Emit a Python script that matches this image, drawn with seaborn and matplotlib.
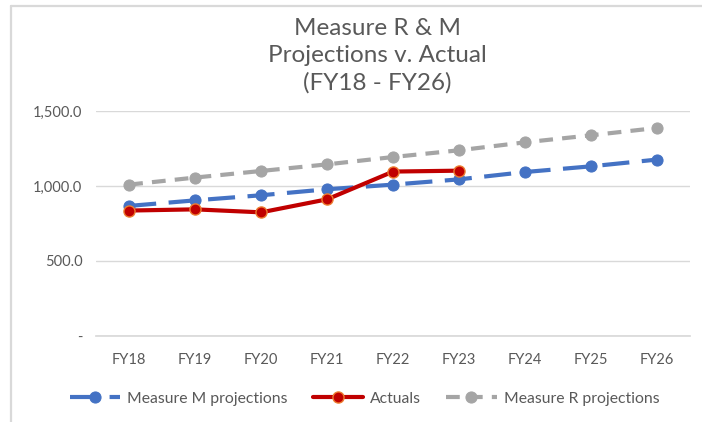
import pandas as pd
import seaborn as sns
import matplotlib.pyplot as plt
from matplotlib.ticker import FuncFormatter

years = ["FY18", "FY19", "FY20", "FY21", "FY22", "FY23", "FY24", "FY25", "FY26"]
m_projections = [867, 904, 938, 978, 1009, 1044, 1093, 1131, 1176]
actuals = [836, 844, 824, 911, 1096, 1102]
r_projections = [1009, 1056, 1100, 1144, 1193, 1238, 1291, 1338, 1387]

sns.set_theme(style="white")
plt.rcParams["font.family"] = ["Lato", "DejaVu Sans"]

txt = "#595959"
grid = "#d9d9d9"

fig = plt.figure(figsize=(7.02, 4.22), dpi=100)
ax = fig.add_axes([0.137, 0.204, 0.846, 0.533])

pos = list(range(len(years)))

sns.lineplot(x=pos, y=m_projections, ax=ax, color="#4472C4", linewidth=3,
             linestyle=(0, (6.5, 3)), marker="o", markersize=8,
             markeredgecolor="#4472C4", label="Measure M projections", zorder=3)
sns.lineplot(x=pos[:len(actuals)], y=actuals, ax=ax, color="#C00000", linewidth=3,
             marker="o", markersize=8, markeredgecolor="#ED7D31",
             markeredgewidth=1, label="Actuals", zorder=4)
sns.lineplot(x=pos, y=r_projections, ax=ax, color="#A5A5A5", linewidth=3,
             linestyle=(0, (3.3, 2.2)), marker="o", markersize=8,
             markeredgecolor="#A5A5A5", label="Measure R projections", zorder=3)

ax.set_xlim(-0.5, len(years) - 0.5)
ax.set_ylim(0, 1500)
ax.set_yticks([0, 500, 1000, 1500])
ax.yaxis.set_major_formatter(FuncFormatter(lambda v, p: "-" if v == 0 else f"{v:,.1f}"))
ax.set_xticks(pos)
ax.set_xticklabels(years)
ax.tick_params(axis="both", colors=txt, labelsize=10.5, length=0)
ax.tick_params(axis="x", pad=12)
ax.tick_params(axis="y", pad=10)
ax.grid(axis="y", color=grid, linewidth=1)
for s in ["top", "right", "left"]:
    ax.spines[s].set_visible(False)
ax.spines["bottom"].set_color(grid)
ax.set_axisbelow(True)

ax.legend(loc="upper center", bbox_to_anchor=(0.452, -0.185), ncol=3, frameon=False,
          fontsize=11.3, labelcolor=txt, handlelength=3.2, columnspacing=1.6,
          handletextpad=0.45)

fig.text(0.538, 0.958, "Measure R & M\nProjections v. Actual\n(FY18 - FY26)",
         ha="center", va="top", fontsize=17.5, color=txt, linespacing=1.36)

# chart frame (top and left edges)
fig.add_artist(plt.Line2D([0.015, 0.015], [0, 0.986], color=grid, linewidth=1.6))
fig.add_artist(plt.Line2D([0.015, 1], [0.986, 0.986], color=grid, linewidth=1.6))

fig.savefig("out.png", dpi=100)
